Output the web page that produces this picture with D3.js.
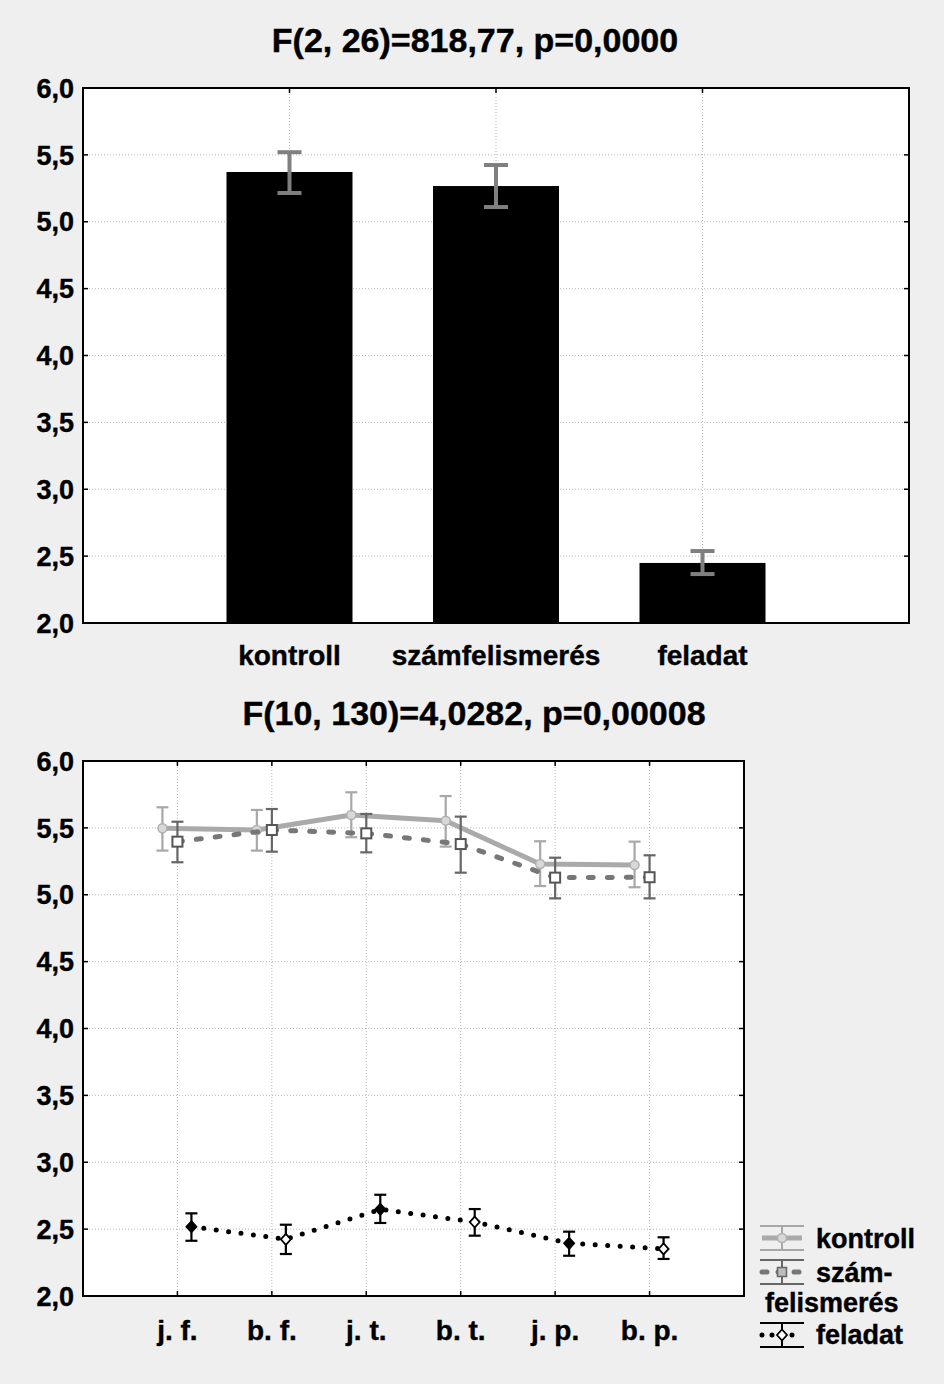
<!DOCTYPE html>
<html><head><meta charset="utf-8">
<script src="https://cdn.jsdelivr.net/npm/d3@7"></script>
<style>
body{margin:0;background:#efefef;}
svg{display:block;font-family:"Liberation Sans",Arial,sans-serif;font-weight:bold;}
text{stroke:#000;stroke-width:0.4px;}
</style></head>
<body><svg id="c" width="944" height="1384"></svg>
<script>
// ---- data ----
const barCategories = ["kontroll", "számfelismerés", "feladat"];
const barMeans = [5.372, 5.267, 2.449];
const barLow = [5.215, 5.110, 2.366];
const barHigh = [5.520, 5.424, 2.538];
const title1 = "F(2, 26)=818,77, p=0,0000";
const title2 = "F(10, 130)=4,0282, p=0,00008";
const yTicks = [2.0, 2.5, 3.0, 3.5, 4.0, 4.5, 5.0, 5.5, 6.0];
const lineCategories = ["j. f.", "b. f.", "j. t.", "b. t.", "j. p.", "b. p."];
const seriesNames = ["kontroll", "szám-felismerés", "feladat"];
const kontrollMean = [5.497, 5.484, 5.596, 5.554, 5.230, 5.222];
const kontrollLow  = [5.330, 5.330, 5.430, 5.360, 5.065, 5.056];
const kontrollHigh = [5.654, 5.634, 5.766, 5.738, 5.400, 5.397];
const szamMean = [5.397, 5.484, 5.459, 5.379, 5.128, 5.131];
const szamLow  = [5.243, 5.322, 5.317, 5.165, 4.973, 4.973];
const szamHigh = [5.546, 5.641, 5.604, 5.584, 5.277, 5.295];
const feladatMean = [2.518, 2.424, 2.648, 2.553, 2.394, 2.352];
const feladatLow  = [2.413, 2.314, 2.546, 2.451, 2.301, 2.277];
const feladatHigh = [2.618, 2.533, 2.757, 2.650, 2.481, 2.439];

const svg = d3.select("#c");
const fmt = d => d3.format(".1f")(d).replace(".", ",");

function frame(g, x0, x1, y, xPositions) {
  g.append("rect").attr("x", x0).attr("y", y(6)).attr("width", x1 - x0).attr("height", y(2) - y(6)).attr("fill", "#fff");
  g.selectAll(null).data(yTicks.filter(t => t > 2 && t < 6)).enter().append("line")
    .attr("x1", x0).attr("x2", x1).attr("y1", d => y(d)).attr("y2", d => y(d))
    .attr("stroke", "#b8b8b8").attr("stroke-width", 1).attr("stroke-dasharray", "1,2");
  g.selectAll(null).data(xPositions).enter().append("line")
    .attr("x1", d => d).attr("x2", d => d).attr("y1", y(6)).attr("y2", y(2))
    .attr("stroke", "#b8b8b8").attr("stroke-width", 1).attr("stroke-dasharray", "1,2");
}
function border(g, x0, x1, y, xPositions) {
  g.append("rect").attr("x", x0).attr("y", y(6)).attr("width", x1 - x0).attr("height", y(2) - y(6))
    .attr("fill", "none").attr("stroke", "#000").attr("stroke-width", 2);
  g.selectAll(null).data(yTicks).enter().append("line")
    .attr("x1", x0).attr("x2", x0 + 5).attr("y1", d => y(d)).attr("y2", d => y(d)).attr("stroke", "#000").attr("stroke-width", 1.5);
  g.selectAll(null).data(yTicks).enter().append("line")
    .attr("x1", x1).attr("x2", x1 - 5).attr("y1", d => y(d)).attr("y2", d => y(d)).attr("stroke", "#000").attr("stroke-width", 1.5);
  g.selectAll(null).data(xPositions).enter().append("line")
    .attr("x1", d => d).attr("x2", d => d).attr("y1", y(2)).attr("y2", y(2) - 5).attr("stroke", "#000").attr("stroke-width", 1.5);
  g.selectAll(null).data(xPositions).enter().append("line")
    .attr("x1", d => d).attr("x2", d => d).attr("y1", y(6)).attr("y2", y(6) + 5).attr("stroke", "#000").attr("stroke-width", 1.5);
  g.selectAll(null).data(yTicks).enter().append("text")
    .attr("x", x0 - 9).attr("y", d => y(d)).attr("dy", "0.36em").attr("text-anchor", "end")
    .attr("font-size", 27).text(fmt);
}

// ---------- Chart 1: bars ----------
{
  const x0 = 83, x1 = 909;
  const y = d3.scaleLinear().domain([2, 6]).range([623, 88]);
  const x = d3.scalePoint().domain(barCategories).range([x0, x1]).padding(1);
  const g = svg.append("g");
  frame(g, x0, x1, y, barCategories.map(x));
  const bw = 126;
  g.selectAll(null).data(barCategories).enter().append("rect")
    .attr("x", d => x(d) - bw / 2).attr("width", bw)
    .attr("y", (d, i) => y(barMeans[i])).attr("height", (d, i) => y(2) - y(barMeans[i]))
    .attr("fill", "#000");
  const eb = g.selectAll(null).data(barCategories).enter().append("g").attr("stroke", "#7f7f7f").attr("stroke-width", 4);
  eb.append("line").attr("x1", d => x(d)).attr("x2", d => x(d)).attr("y1", (d, i) => y(barLow[i])).attr("y2", (d, i) => y(barHigh[i]));
  eb.append("line").attr("x1", d => x(d) - 12).attr("x2", d => x(d) + 12).attr("y1", (d, i) => y(barLow[i])).attr("y2", (d, i) => y(barLow[i]));
  eb.append("line").attr("x1", d => x(d) - 12).attr("x2", d => x(d) + 12).attr("y1", (d, i) => y(barHigh[i])).attr("y2", (d, i) => y(barHigh[i]));
  border(g, x0, x1, y, [x0 + (x1 - x0) / 4, x0 + (x1 - x0) / 2, x0 + 3 * (x1 - x0) / 4]);
  g.selectAll(null).data(barCategories).enter().append("text")
    .attr("x", d => x(d)).attr("y", 665).attr("text-anchor", "middle").attr("font-size", 28).text(d => d);
  svg.append("text").attr("x", 475).attr("y", 52).attr("text-anchor", "middle").attr("font-size", 34).text(title1);
}

// ---------- Chart 2: lines ----------
{
  const x0 = 83, x1 = 744;
  const y = d3.scaleLinear().domain([2, 6]).range([1296, 761]);
  const x = d3.scalePoint().domain(lineCategories).range([x0, x1]).padding(1);
  const g = svg.append("g");
  frame(g, x0, x1, y, lineCategories.map(x));

  const series = [
    {name: seriesNames[0], mean: kontrollMean, lo: kontrollLow, hi: kontrollHigh, off: -15, color: "#aaaaaa", ebColor: "#a8a8a8", lw: 5, dash: null, cap: "butt", marker: "circle"},
    {name: seriesNames[1], mean: szamMean, lo: szamLow, hi: szamHigh, off: 0, color: "#777777", ebColor: "#666666", lw: 5, dash: "5,14", cap: "round", marker: "square"},
    {name: seriesNames[2], mean: feladatMean, lo: feladatLow, hi: feladatHigh, off: 14, color: "#000000", ebColor: "#000000", lw: 5, dash: "0,12.5", cap: "round", marker: "diamond"}
  ];
  series.forEach(s => {
    const line = d3.line().x((d, i) => x(lineCategories[i]) + s.off).y(d => y(d));
    g.append("path").attr("d", line(s.mean)).attr("fill", "none").attr("stroke", s.color)
      .attr("stroke-width", s.lw).attr("stroke-dasharray", s.dash).attr("stroke-linecap", s.cap).attr("stroke-linejoin", "round");
    const eb = g.selectAll(null).data(lineCategories).enter().append("g").attr("stroke", s.ebColor).attr("stroke-width", 2.2);
    const cx = d => x(d) + s.off;
    eb.append("line").attr("x1", cx).attr("x2", cx).attr("y1", (d, i) => y(s.lo[i])).attr("y2", (d, i) => y(s.hi[i]));
    eb.append("line").attr("x1", d => cx(d) - 6).attr("x2", d => cx(d) + 6).attr("y1", (d, i) => y(s.lo[i])).attr("y2", (d, i) => y(s.lo[i]));
    eb.append("line").attr("x1", d => cx(d) - 6).attr("x2", d => cx(d) + 6).attr("y1", (d, i) => y(s.hi[i])).attr("y2", (d, i) => y(s.hi[i]));
    const m = g.selectAll(null).data(lineCategories).enter();
    if (s.marker === "circle") {
      m.append("circle").attr("cx", cx).attr("cy", (d, i) => y(s.mean[i])).attr("r", 4.5)
        .attr("fill", "#d8d8d8").attr("stroke", "#b0b0b0").attr("stroke-width", 1.5);
    } else if (s.marker === "square") {
      m.append("rect").attr("x", d => cx(d) - 5).attr("y", (d, i) => y(s.mean[i]) - 5).attr("width", 10).attr("height", 10)
        .attr("fill", "#fff").attr("stroke", "#555").attr("stroke-width", 2);
    } else {
      m.append("path").attr("d", "M0,-5.5L5,0L0,5.5L-5,0Z")
        .attr("transform", (d, i) => `translate(${cx(d)},${y(s.mean[i])})`)
        .attr("fill", (d, i) => i % 2 === 0 ? "#000" : "#fff").attr("stroke", "#000").attr("stroke-width", 1.8);
    }
  });
  border(g, x0, x1, y, lineCategories.map(x));
  g.selectAll(null).data(lineCategories).enter().append("text")
    .attr("x", d => x(d)).attr("y", 1340).attr("text-anchor", "middle").attr("font-size", 28).text(d => d);
  svg.append("text").attr("x", 474).attr("y", 725).attr("text-anchor", "middle").attr("font-size", 34).text(title2);

  // legend
  const lg = svg.append("g");
  const ly = [1238, 1272, 1335];
  series.forEach((s, k) => {
    const yy = ly[k], lx0 = 760, lx1 = 804, mx = 782;
    const gg = lg.append("g");
    gg.append("line").attr("x1", lx0).attr("x2", lx1).attr("y1", yy - 12).attr("y2", yy - 12).attr("stroke", s.ebColor).attr("stroke-width", 2);
    gg.append("line").attr("x1", lx0).attr("x2", lx1).attr("y1", yy + 12).attr("y2", yy + 12).attr("stroke", s.ebColor).attr("stroke-width", 2);
    gg.append("line").attr("x1", mx).attr("x2", mx).attr("y1", yy - 12).attr("y2", yy + 12).attr("stroke", s.ebColor).attr("stroke-width", 2);
    gg.append("line").attr("x1", lx0 + 2).attr("x2", lx1 - 2).attr("y1", yy).attr("y2", yy).attr("stroke", s.color)
      .attr("stroke-width", s.lw).attr("stroke-dasharray", s.dash ? (k === 1 ? "5,11" : "0,10") : null).attr("stroke-linecap", s.cap);
    if (s.marker === "circle") gg.append("circle").attr("cx", mx).attr("cy", yy).attr("r", 4.5).attr("fill", "#d8d8d8").attr("stroke", "#b0b0b0").attr("stroke-width", 1.5);
    else if (s.marker === "square") gg.append("rect").attr("x", mx - 4.5).attr("y", yy - 4.5).attr("width", 9).attr("height", 9).attr("fill", "#bbb").attr("stroke", "#666").attr("stroke-width", 1.5);
    else gg.append("path").attr("d", "M0,-5.5L5,0L0,5.5L-5,0Z").attr("transform", `translate(${mx},${yy})`).attr("fill", "#fff").attr("stroke", "#000").attr("stroke-width", 1.8);
  });
  lg.append("text").attr("x", 816).attr("y", 1248).attr("font-size", 27).text("kontroll");
  lg.append("text").attr("x", 816).attr("y", 1282).attr("font-size", 27).text("szám-");
  lg.append("text").attr("x", 765).attr("y", 1312).attr("font-size", 27).text("felismerés");
  lg.append("text").attr("x", 816).attr("y", 1344).attr("font-size", 27).text("feladat");
}
</script></body></html>
